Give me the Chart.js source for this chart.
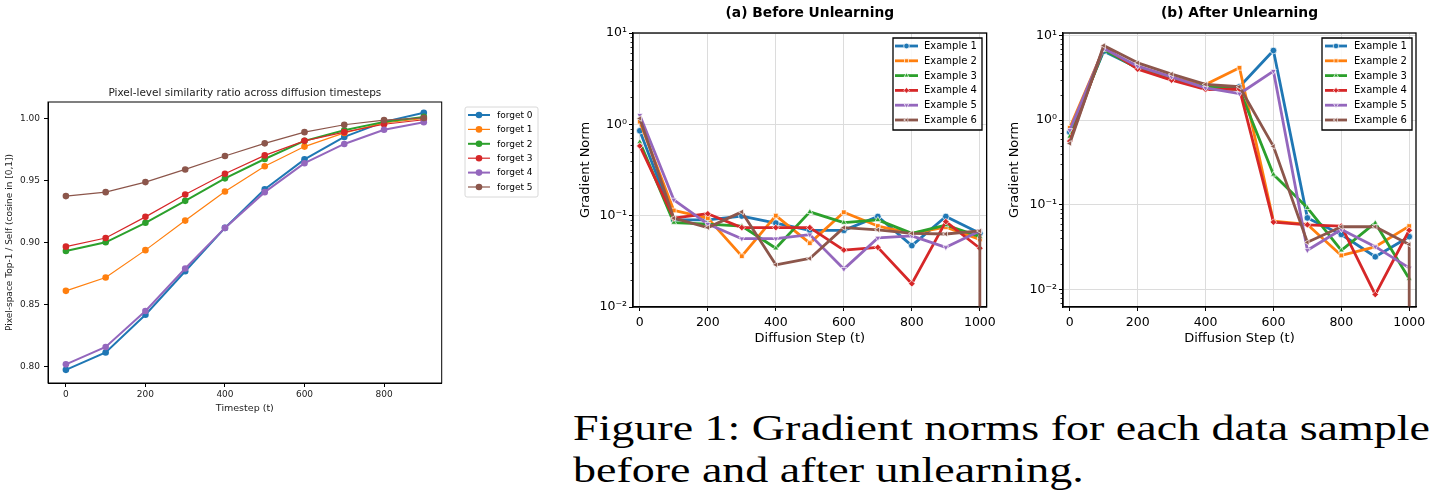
<!DOCTYPE html>
<html>
<head>
<meta charset="utf-8">
<script src="https://cdn.jsdelivr.net/npm/chart.js@4.4.1/dist/chart.umd.min.js"></script>
<style>
  body { margin: 0; width: 1433px; height: 502px; background: #fff; position: relative; overflow: hidden; }
  .box { position: absolute; }
  #caption { position: absolute; left: 573px; top: 408px; font-family: "Liberation Serif", serif; font-size: 35px;
             line-height: 42px; white-space: nowrap; color: #000; transform-origin: 0 0; }
</style>
</head>
<body>
<div class="box" style="left:0;top:80px;width:560px;height:345px"><canvas id="simChart"></canvas></div>
<div class="box" style="left:570px;top:0;width:430px;height:350px"><canvas id="beforeChart"></canvas></div>
<div class="box" style="left:1000px;top:0;width:433px;height:350px"><canvas id="afterChart"></canvas></div>
<div id="caption"><span id="capLine1">Figure 1: Gradient norms for each data sample</span><br>before and after unlearning.</div>

<script>
// left figure: pixel similarity per timestep
const timesteps = [0, 100, 200, 300, 400, 500, 600, 700, 800, 900];
const simXTicks = [0, 200, 400, 600, 800];
const simYTicks = [0.80, 0.85, 0.90, 0.95, 1.00];
const simLabels = ['forget 0', 'forget 1', 'forget 2', 'forget 3', 'forget 4', 'forget 5'];
const forget0 = [0.7976, 0.8116, 0.842, 0.877, 0.9119, 0.943, 0.9671, 0.9852, 0.9973, 1.0046];
const forget1 = [0.8612, 0.872, 0.894, 0.9178, 0.9412, 0.9615, 0.9774, 0.9884, 0.9965, 1.0000];
const forget2 = [0.8933, 0.9003, 0.916, 0.9337, 0.9518, 0.9674, 0.982, 0.9906, 0.9973, 1.0013];
const forget3 = [0.8968, 0.9038, 0.9208, 0.9388, 0.9555, 0.9703, 0.982, 0.989, 0.9954, 0.999];
const forget4 = [0.802, 0.816, 0.845, 0.8792, 0.9119, 0.9407, 0.964, 0.9795, 0.991, 0.997];
const forget5 = [0.9375, 0.9407, 0.9488, 0.959, 0.9698, 0.980, 0.989, 0.995, 0.9987, 1.0005];

// right figures: gradient norms (log scale)
const diffSteps = [0, 100, 200, 300, 400, 500, 600, 700, 800, 900, 1000];
const ex6Steps = [0, 100, 200, 300, 400, 500, 600, 700, 800, 900, 1000, 1000];
const gradXTicks = [0, 200, 400, 600, 800, 1000];
const gradYTicks = [0.01, 0.1, 1, 10];
const exLabels = ['Example 1', 'Example 2', 'Example 3', 'Example 4', 'Example 5', 'Example 6'];
const before1 = [0.85, 0.09, 0.09, 0.099, 0.083, 0.069, 0.069, 0.098, 0.047, 0.098, 0.064];
const before2 = [1.07, 0.114, 0.094, 0.036, 0.10, 0.05, 0.109, 0.077, 0.064, 0.075, 0.055];
const before3 = [0.64, 0.084, 0.081, 0.077, 0.044, 0.11, 0.084, 0.09, 0.064, 0.079, 0.059];
const before4 = [0.58, 0.094, 0.105, 0.074, 0.074, 0.074, 0.042, 0.045, 0.018, 0.086, 0.044];
const before5 = [1.26, 0.149, 0.081, 0.056, 0.056, 0.062, 0.026, 0.057, 0.06, 0.045, 0.068];
const before6 = [1.16, 0.094, 0.074, 0.11, 0.029, 0.034, 0.074, 0.07, 0.064, 0.063, 0.068, 0];
const after1 = [0.72, 6.5, 4.15, 3.16, 2.48, 2.48, 6.65, 0.070, 0.0446, 0.0243, 0.042];
const after2 = [0.81, 6.97, 4.15, 3.16, 2.64, 4.15, 0.064, 0.0586, 0.0252, 0.0319, 0.056];
const after3 = [0.64, 6.8, 4.1, 3.0, 2.48, 2.3, 0.228, 0.092, 0.029, 0.061, 0.0134];
const after4 = [0.565, 7.3, 4.0, 2.97, 2.3, 2.33, 0.0624, 0.058, 0.056, 0.0087, 0.050];
const after5 = [0.76, 7.0, 4.34, 3.25, 2.4, 2.05, 3.8, 0.029, 0.051, 0.032, 0.018];
const after6 = [0.53, 7.6, 4.75, 3.5, 2.64, 2.48, 0.49, 0.036, 0.055, 0.055, 0.034, 0];

const tab10 = ['#1f77b4', '#ff7f0e', '#2ca02c', '#d62728', '#9467bd', '#8c564b'];
const markers = [
  { style: 'circle', rot: 0 }, { style: 'rect', rot: 0 }, { style: 'triangle', rot: 0 },
  { style: 'rectRot', rot: 0 }, { style: 'triangle', rot: 180 }, { style: 'triangle', rot: 270 }
];

Chart.defaults.font.family = '"DejaVu Sans", sans-serif';
Chart.defaults.color = '#000';

function toPoints(xs, ys) {
  return ys.map((y, i) => ({ x: xs[i], y: y }));
}
// a zero on a log axis goes off the bottom, like matplotlib does
function toLogPoints(xs, ys) {
  return ys.map((y, i) => ({ x: xs[i], y: y > 0 ? y : 1e-9 }));
}

const SUP = { '-': '\u207B', '0': '\u2070', '1': '\u00B9', '2': '\u00B2', '3': '\u00B3' };
function logLabel(v) {
  const e = String(Math.round(Math.log10(v)));
  return '10' + e.split('').map(c => SUP[c] || c).join('');
}

// title centred over the axes, like matplotlib
const mplTitle = {
  id: 'mplTitle',
  afterDraw(chart, args, o) {
    const ctx = chart.ctx, a = chart.chartArea;
    ctx.save();
    ctx.font = (o.bold ? 'bold ' : '') + o.size + 'px "DejaVu Sans"';
    ctx.fillStyle = o.color || '#000';
    ctx.textAlign = 'center';
    ctx.textBaseline = 'middle';
    ctx.fillText(o.text, (a.left + a.right) / 2, o.y);
    ctx.restore();
  }
};

// black box round the plot
const mplFrame = {
  id: 'mplFrame',
  afterDraw(chart, args, o) {
    const ctx = chart.ctx, a = chart.chartArea;
    ctx.save();
    ctx.strokeStyle = '#000';
    ctx.lineWidth = o.width;
    ctx.strokeRect(a.left, a.top, a.right - a.left, a.bottom - a.top);
    if (o.minorTicks) {
      const y = chart.scales.y;
      ctx.lineWidth = 0.8;
      const lo = Math.floor(Math.log10(y.min)), hi = Math.ceil(Math.log10(y.max));
      for (let e = lo; e <= hi; e++) {
        for (let k = 2; k <= 9; k++) {
          const v = k * Math.pow(10, e);
          if (v < y.min || v > y.max) continue;
          const py = Math.round(y.getPixelForValue(v)) + 0.5;
          ctx.beginPath();
          ctx.moveTo(a.left, py);
          ctx.lineTo(a.left - 2.5, py);
          ctx.stroke();
        }
      }
    }
    ctx.restore();
  }
};

// matplotlib style legend box
const mplLegend = {
  id: 'mplLegend',
  afterDraw(chart, args, o) {
    const ctx = chart.ctx;
    ctx.save();
    ctx.beginPath();
    if (ctx.roundRect) ctx.roundRect(o.left, o.top, o.width, o.height, o.radius);
    else ctx.rect(o.left, o.top, o.width, o.height);
    ctx.fillStyle = 'rgba(255,255,255,0.85)';
    ctx.fill();
    ctx.strokeStyle = o.frameColor;
    ctx.lineWidth = o.frameWidth;
    ctx.stroke();
    ctx.font = o.fontSize + 'px "DejaVu Sans"';
    ctx.textBaseline = 'middle';
    ctx.textAlign = 'left';
    chart.data.datasets.forEach((ds, i) => {
      const y = o.rowTop + i * o.rowGap;
      ctx.strokeStyle = ds.borderColor;
      ctx.lineWidth = ds.borderWidth;
      ctx.lineCap = 'butt';
      ctx.beginPath();
      ctx.moveTo(o.lineStart, y);
      ctx.lineTo(o.lineEnd, y);
      ctx.stroke();
      ctx.fillStyle = ds.pointBackgroundColor;
      ctx.strokeStyle = ds.pointBorderColor;
      ctx.lineWidth = ds.pointBorderWidth;
      const mx = (o.lineStart + o.lineEnd) / 2;
      if (Chart.helpers && Chart.helpers.drawPoint) {
        Chart.helpers.drawPoint(ctx, { pointStyle: ds.pointStyle, rotation: ds.pointRotation || 0,
          radius: o.markerRadius, borderWidth: ds.pointBorderWidth }, mx, y);
      } else {
        ctx.beginPath(); ctx.arc(mx, y, o.markerRadius, 0, Math.PI * 2); ctx.fill();
      }
      ctx.fillStyle = '#000';
      ctx.fillText(ds.label, o.textX, y + 0.5);
    });
    ctx.restore();
  }
};

// ---- left chart ----
const simValues = [forget0, forget1, forget2, forget3, forget4, forget5];
new Chart(document.getElementById('simChart'), {
  type: 'line',
  data: {
    datasets: simValues.map((vals, i) => ({
      label: simLabels[i],
      data: toPoints(timesteps, vals),
      borderColor: tab10[i],
      backgroundColor: tab10[i],
      pointBackgroundColor: tab10[i],
      pointBorderColor: tab10[i],
      pointBorderWidth: 0,
      borderWidth: i % 2 === 0 ? 2 : 1.2,
      pointRadius: 3.3,
      order: 10 - i
    }))
  },
  options: {
    responsive: true, maintainAspectRatio: false, animation: false,
    layout: { padding: { top: 22, right: 118.3, left: 0, bottom: 0 } },
    plugins: {
      legend: { display: false }, tooltip: { enabled: false },
      mplTitle: { text: 'Pixel-level similarity ratio across diffusion timesteps', size: 10.5, y: 13, color: '#222' },
      mplFrame: { width: 1 },
      mplLegend: { left: 465, top: 27, width: 73, height: 90, radius: 2, frameColor: '#d8d8d8', frameWidth: 1,
                   rowTop: 35, rowGap: 14.4, lineStart: 468, lineEnd: 490, textX: 497, fontSize: 9, markerRadius: 3.3 }
    },
    scales: {
      x: {
        type: 'linear', min: -45, max: 945,
        afterBuildTicks: s => { s.ticks = simXTicks.map(v => ({ value: v })); },
        afterFit: s => { s.height = 42; },
        grid: { display: true, drawOnChartArea: false, tickLength: 4, tickColor: '#000' },
        border: { color: '#000', width: 1 },
        ticks: { font: { size: 9 }, color: '#222', padding: 2, maxRotation: 0, callback: v => String(v) },
        title: { display: true, text: 'Timestep (t)', font: { size: 9.5 }, color: '#222', padding: { top: 0, bottom: 11 } }
      },
      y: {
        type: 'linear', min: 0.787, max: 1.0133,
        afterBuildTicks: s => { s.ticks = simYTicks.map(v => ({ value: v })); },
        afterFit: s => { s.width = 48; },
        grid: { display: true, drawOnChartArea: false, tickLength: 4, tickColor: '#000' },
        border: { color: '#000', width: 1 },
        ticks: { font: { size: 9 }, color: '#222', padding: 4, callback: v => v.toFixed(2) },
        title: { display: true, text: 'Pixel-space Top-1 / Self (cosine in [0,1])', font: { size: 9 }, color: '#222', padding: { top: 4 } }
      }
    }
  },
  plugins: [mplTitle, mplLegend, mplFrame]
});

// ---- right charts ----
function gradChart(id, title, series, yMin, yMax, legendOpts) {
  return new Chart(document.getElementById(id), {
    type: 'line',
    data: {
      datasets: series.map((vals, i) => ({
        label: exLabels[i],
        data: toLogPoints(vals.length > diffSteps.length ? ex6Steps : diffSteps, vals),
        borderColor: tab10[i],
        backgroundColor: tab10[i],
        pointBackgroundColor: tab10[i],
        pointBorderColor: '#fff',
        pointBorderWidth: 0.7,
        pointStyle: markers[i].style,
        pointRotation: markers[i].rot,
        pointRadius: c => (c.raw && c.raw.y >= yMin ? 3.3 : 0),
        borderWidth: 2.8,
        borderJoinStyle: 'round',
        order: 10 - i
      }))
    },
    options: {
      responsive: true, maintainAspectRatio: false, animation: false,
      layout: { padding: { top: 33, right: legendOpts.padRight, left: 0, bottom: 0 } },
      plugins: {
        legend: { display: false }, tooltip: { enabled: false },
        mplTitle: { text: title, size: 13.8, bold: true, y: 13 },
        mplFrame: { width: 1.3, minorTicks: true },
        mplLegend: legendOpts
      },
      scales: {
        x: {
          type: 'linear', min: -20, max: 1020,
          afterBuildTicks: s => { s.ticks = gradXTicks.map(v => ({ value: v })); },
          afterFit: s => { s.height = 43; },
          grid: { display: true, color: '#dcdcdc', tickLength: 4, tickColor: '#000' },
          border: { color: '#000', width: 1.3 },
          ticks: { font: { size: 12.5 }, padding: 4, maxRotation: 0, callback: v => String(v) },
          title: { display: true, text: 'Diffusion Step (t)', font: { size: 13 }, padding: { top: 0, bottom: 4 } }
        },
        y: {
          type: 'logarithmic', min: yMin, max: yMax,
          afterBuildTicks: s => { s.ticks = gradYTicks.filter(v => v >= yMin && v <= yMax).map(v => ({ value: v, major: true })); },
          afterFit: s => { s.width = 63; },
          grid: { display: true, color: '#dcdcdc', tickLength: 4, tickColor: '#000' },
          border: { color: '#000', width: 1.3 },
          ticks: { font: { size: 12.5 }, padding: 2, autoSkip: false, callback: v => logLabel(v) },
          title: { display: true, text: 'Gradient Norm', font: { size: 13 }, padding: { top: legendOpts.yTitlePad } }
        }
      }
    },
    plugins: [mplTitle, mplLegend, mplFrame]
  });
}

gradChart('beforeChart', '(a) Before Unlearning',
  [before1, before2, before3, before4, before5, before6], 0.01, 10,
  { padRight: 13, yTitlePad: 8, left: 323, top: 38, width: 89, height: 92, radius: 0, frameColor: '#000', frameWidth: 1.3,
    rowTop: 46, rowGap: 14.8, lineStart: 325, lineEnd: 348, textX: 354, fontSize: 10, markerRadius: 2.8 });

gradChart('afterChart', '(b) After Unlearning',
  [after1, after2, after3, after4, after5, after6], 0.0062, 10.7,
  { padRight: 17, yTitlePad: 7, left: 322, top: 38, width: 90, height: 92, radius: 0, frameColor: '#000', frameWidth: 1.3,
    rowTop: 46, rowGap: 14.8, lineStart: 325, lineEnd: 347, textX: 354, fontSize: 10, markerRadius: 2.8 });

// stretch caption to the width of the reference typesetting
const cap = document.getElementById('caption');
const w1 = document.getElementById('capLine1').getBoundingClientRect().width;
cap.style.transform = 'scaleX(' + (857 / w1) + ')';
</script>
</body>
</html>
